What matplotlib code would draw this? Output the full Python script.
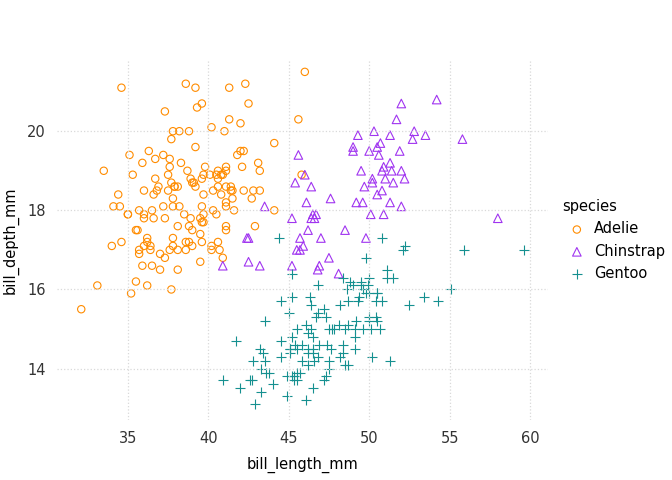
import matplotlib.pyplot as plt

adelie_len = [39.1, 39.5, 40.3, 36.7, 39.3, 38.9, 39.2, 34.1, 42.0, 37.8, 37.8, 41.1, 38.6, 34.6, 36.6, 38.7, 42.5, 34.4, 46.0, 37.8,
              37.7, 35.9, 38.2, 38.8, 35.3, 40.6, 40.5, 37.9, 40.5, 39.5, 37.2, 39.5, 40.9, 36.4, 39.2, 38.8, 42.2, 37.6, 39.8, 36.5,
              40.8, 36.0, 44.1, 37.0, 39.6, 41.1, 37.5, 36.0, 42.3, 39.6, 40.1, 35.0, 42.0, 34.5, 41.4, 39.0, 40.6, 36.5, 37.6, 35.7,
              41.3, 37.6, 41.1, 36.4, 41.6, 35.5, 41.1, 35.9, 41.8, 33.5, 39.7, 39.6, 45.8, 35.5, 42.8, 40.9, 37.2, 36.2, 42.1, 34.6,
              42.9, 36.7, 35.1, 37.3, 41.3, 36.3, 36.9, 38.3, 38.9, 35.7, 41.1, 34.0, 39.6, 36.2, 40.8, 38.1, 40.3, 33.1, 43.2, 35.0,
              41.0, 37.7, 37.8, 37.9, 39.7, 38.6, 38.2, 38.1, 43.2, 38.1, 45.6, 39.7, 42.2, 39.6, 42.7, 38.6, 37.3, 35.7, 41.1, 36.2,
              37.7, 40.2, 41.4, 35.2, 40.6, 38.8, 41.5, 39.0, 44.1, 38.5, 43.1, 36.8, 37.5, 38.1, 41.1, 35.6, 40.2, 37.0, 39.7, 40.2,
              40.6, 32.1, 40.7, 37.3, 39.0, 39.2, 36.6, 36.0, 37.8, 36.0, 41.5]
adelie_dep = [18.7, 17.4, 18.0, 19.3, 20.6, 17.8, 19.6, 18.1, 20.2, 17.1, 17.3, 17.6, 21.2, 21.1, 17.8, 19.0, 20.7, 18.4, 21.5, 18.3,
              18.7, 19.2, 18.1, 17.2, 18.9, 18.6, 17.9, 18.6, 18.9, 16.7, 18.1, 17.8, 18.9, 17.0, 21.1, 20.0, 18.5, 19.3, 19.1, 18.0,
              18.4, 18.5, 19.7, 16.9, 18.8, 19.0, 18.9, 17.9, 21.2, 17.7, 18.9, 17.9, 19.5, 18.1, 18.6, 17.5, 18.8, 16.6, 19.1, 16.9,
              21.1, 17.0, 18.2, 17.1, 18.0, 16.2, 19.1, 16.6, 19.4, 19.0, 18.4, 17.2, 18.9, 17.5, 18.5, 16.8, 19.4, 16.1, 19.1, 17.2,
              17.6, 18.8, 19.4, 17.8, 20.3, 19.5, 18.6, 19.2, 18.8, 18.0, 18.1, 17.1, 18.1, 17.3, 18.9, 18.6, 18.5, 16.1, 18.5, 17.9,
              20.0, 16.0, 20.0, 18.6, 18.9, 17.2, 20.0, 17.0, 19.0, 16.5, 20.3, 17.7, 19.5, 20.7, 18.3, 17.0, 20.5, 17.0, 18.6, 17.2,
              19.8, 17.0, 18.5, 15.9, 19.0, 17.6, 18.3, 17.1, 18.0, 17.9, 19.2, 18.5, 18.5, 17.6, 17.5, 17.5, 20.1, 16.5, 17.9, 17.1,
              17.2, 15.5, 17.0, 16.8, 18.7, 18.6, 18.4, 17.8, 18.1, 17.1, 18.5]

chin_len = [46.5, 50.0, 51.3, 45.4, 52.7, 45.2, 46.1, 51.3, 46.0, 51.3, 46.6, 51.7, 47.0, 52.0, 45.9, 50.5, 50.3, 58.0, 46.4, 49.2,
            42.4, 48.5, 43.2, 50.6, 46.7, 52.0, 50.5, 49.5, 46.4, 52.8, 40.9, 54.2, 42.5, 51.0, 49.7, 47.5, 47.6, 52.0, 46.9, 53.5,
            49.0, 46.2, 50.9, 45.5, 50.9, 50.8, 50.1, 49.0, 51.5, 49.8, 48.1, 51.4, 45.7, 50.7, 42.5, 52.2, 45.2, 49.3, 50.2, 45.6,
            51.9, 46.8, 45.7, 55.8, 43.5, 49.6, 50.8, 50.2]
chin_dep = [17.9, 19.5, 19.2, 18.7, 19.8, 17.8, 18.2, 18.2, 18.9, 19.9, 17.8, 20.3, 17.3, 18.1, 17.1, 19.6, 20.0, 17.8, 18.6, 18.2,
            17.3, 17.5, 16.6, 19.4, 17.9, 19.0, 18.4, 19.0, 17.8, 20.0, 16.6, 20.8, 16.7, 18.8, 18.6, 16.8, 18.3, 20.7, 16.6, 19.9,
            19.5, 17.5, 19.1, 17.0, 17.9, 18.5, 17.9, 19.6, 18.7, 17.3, 16.4, 19.0, 17.3, 19.7, 17.3, 18.8, 16.6, 19.9, 18.8, 19.4,
            19.5, 16.5, 17.0, 19.8, 18.1, 18.2, 19.0, 18.7]

gentoo_len = [46.1, 50.0, 48.7, 50.0, 47.6, 46.5, 45.4, 46.7, 43.3, 46.8, 40.9, 49.0, 45.5, 48.4, 45.8, 49.3, 42.0, 49.2, 46.2, 48.7,
              50.2, 45.1, 46.5, 46.3, 42.9, 46.1, 44.5, 47.8, 48.2, 50.0, 47.3, 42.8, 45.1, 59.6, 49.1, 48.4, 42.6, 44.4, 44.0, 48.7,
              42.7, 49.6, 45.3, 49.6, 50.5, 43.6, 45.5, 50.5, 44.9, 45.2, 46.6, 48.5, 45.1, 50.1, 46.5, 45.0, 43.8, 45.5, 43.2, 50.4,
              45.3, 46.2, 45.7, 54.3, 45.8, 49.8, 46.2, 49.5, 43.5, 50.7, 47.7, 46.4, 48.2, 46.5, 46.4, 48.6, 47.5, 51.1, 45.2, 45.2,
              49.1, 52.5, 47.4, 50.0, 44.9, 50.8, 43.4, 51.3, 47.5, 52.1, 47.5, 52.2, 45.5, 49.5, 44.5, 50.8, 49.4, 46.9, 48.4, 51.1,
              48.5, 55.9, 47.2, 49.1, 47.3, 46.8, 41.7, 53.4, 43.3, 48.1, 50.5, 49.8, 43.5, 51.5, 46.2, 55.1, 44.5, 48.8, 47.2, 46.8,
              50.4, 45.2, 49.9]
gentoo_dep = [13.2, 16.3, 14.1, 15.2, 14.5, 13.5, 14.6, 15.3, 13.4, 15.4, 13.7, 16.1, 13.7, 14.6, 14.6, 15.7, 13.5, 15.2, 14.5, 15.1,
              14.3, 14.5, 14.5, 15.8, 13.1, 15.1, 14.3, 15.0, 14.3, 15.3, 15.3, 14.2, 14.5, 17.0, 14.8, 16.3, 13.7, 17.3, 13.6, 15.7,
              13.7, 16.0, 13.7, 15.0, 15.9, 13.9, 13.9, 15.9, 13.3, 15.8, 14.2, 14.1, 14.4, 15.0, 14.4, 15.4, 13.9, 15.0, 14.5, 15.3,
              13.8, 14.9, 13.9, 15.7, 14.2, 16.8, 14.4, 16.2, 14.2, 15.0, 15.0, 15.6, 15.6, 14.8, 15.0, 16.0, 14.2, 16.3, 13.8, 16.4,
              14.5, 15.6, 14.6, 15.9, 13.8, 17.3, 14.4, 14.2, 14.0, 17.0, 15.0, 17.1, 14.5, 16.1, 14.7, 15.7, 15.8, 14.6, 14.4, 16.5,
              15.0, 17.0, 15.5, 15.0, 13.8, 16.1, 14.7, 15.8, 14.0, 15.1, 15.2, 15.9, 15.2, 16.3, 14.1, 16.0, 15.7, 16.2, 13.7, 14.3,
              15.7, 14.8, 16.1]

fig, ax = plt.subplots(figsize=(6.72, 4.8), dpi=100)
fig.subplots_adjust(left=0.085, right=0.815, top=0.875, bottom=0.125)

ax.scatter(adelie_len, adelie_dep, s=28, marker='o', facecolors='none', edgecolors='#FF8C00', linewidths=0.8, label='Adelie')
ax.scatter(chin_len, chin_dep, s=38, marker='^', facecolors='none', edgecolors='#A034F0', linewidths=0.8, label='Chinstrap')
ax.scatter(gentoo_len, gentoo_dep, s=50, marker='+', color='#159090', linewidths=0.8, label='Gentoo')

ax.set_xlim(30.6, 61.1)
ax.set_ylim(12.7, 21.8)
ax.set_xticks([35, 40, 45, 50, 55, 60])
ax.set_yticks([14, 16, 18, 20])
ax.grid(True, color='#d9d9d9', linestyle=':', linewidth=0.9)
for s in ax.spines.values():
    s.set_visible(False)
ax.tick_params(length=0, labelsize=10.5, colors='#333333', pad=8)
ax.set_xlabel('bill_length_mm', fontsize=10.5, labelpad=8)
ax.set_ylabel('bill_depth_mm', fontsize=10.5, labelpad=6)

leg = ax.legend(title='species', loc='center left', bbox_to_anchor=(1.0, 0.5), frameon=False,
                fontsize=10.5, title_fontsize=10.5, handletextpad=0.2, borderaxespad=0.6)
leg._legend_box.align = 'left'

fig.savefig('out.png')
